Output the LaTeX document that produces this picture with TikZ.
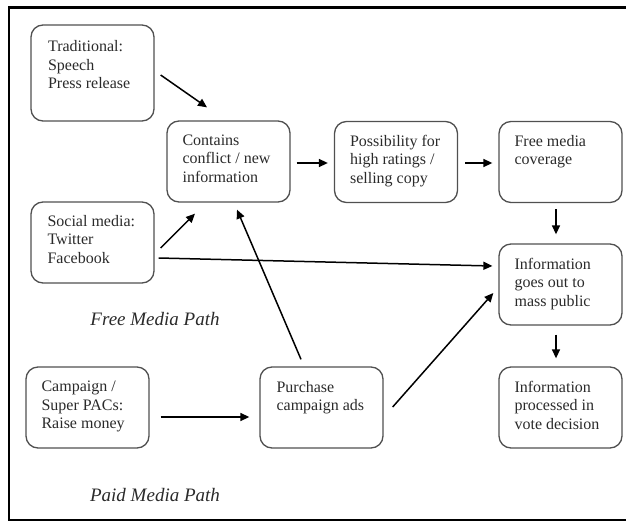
\documentclass[tikz,border=0pt]{standalone}
\usepackage{fontspec}
\setmainfont{Liberation Serif}
\usetikzlibrary{arrows.meta,calc}
\definecolor{boxgray}{HTML}{505050}
\definecolor{txtgray}{HTML}{2A2A2A}
\begin{document}
\begin{tikzpicture}[x=1pt,y=-1pt,
  box/.style={draw=boxgray,line width=1.3pt,rounded corners=12pt,minimum width=123pt,minimum height=81pt,inner sep=0pt},
  tallbox/.style={box,minimum height=96pt},
  txt/.style={anchor=north west,align=left,inner sep=0pt,text=txtgray,font=\fontsize{16}{18.5}\selectfont},
  lab/.style={inner sep=0pt,text=txtgray,font=\fontsize{19}{22}\selectfont\itshape},
  arr/.style={line width=1.5pt,-{Triangle[length=9pt,width=8pt]}}]
\useasboundingbox (0,0) rectangle (626,522);
\draw[line width=2.5pt] (626,7.5) -- (9,7.5) -- (9,520) -- (626,520);

\node[tallbox] (trad) at (92.5,73) {};
\node[txt] (tradt) at ([shift={(17.5,16)}]trad.north west) {Traditional:\\Speech\\Press release};
\node[box] (cont) at (228.5,161.5) {};
\node[txt] (contt) at ([shift={(16,14)}]cont.north west) {Contains\\conflict / new\\information};
\node[box] (soc) at (92.5,242.5) {};
\node[txt] (soct) at ([shift={(17,13.5)}]soc.north west) {Social media:\\Twitter\\Facebook};
\node[box] (poss) at (396,162) {};
\node[txt] (posst) at ([shift={(16,14)}]poss.north west) {Possibility for\\high ratings /\\selling copy};
\node[box] (free) at (560.5,162) {};
\node[txt] (freet) at ([shift={(16,14)}]free.north west) {Free media\\coverage};
\node[box] (info) at (560.5,284.5) {};
\node[txt] (infot) at ([shift={(16,14.5)}]info.north west) {Information\\goes out to\\mass public};
\node[box] (proc) at (560.5,407.5) {};
\node[txt] (proct) at ([shift={(16,14.5)}]proc.north west) {Information\\processed in\\vote decision};
\node[box] (camp) at (87.5,407.5) {};
\node[txt] (campt) at ([shift={(16,14.5)}]camp.north west) {Campaign /\\Super PACs:\\Raise money};
\node[box] (purch) at (321.5,407.5) {};
\node[txt] (purcht) at ([shift={(17,14.5)}]purch.north west) {Purchase\\campaign ads};

\node[lab,anchor=base] (freelab) at (155,325.5) {Free Media Path};
\node[lab,anchor=base] (paidlab) at (155,501.5) {Paid Media Path};

\draw[arr] ([shift={(6,2)}]trad.east) -- ([shift={(-21.5,-13)}]cont.north);
\draw[arr] ([shift={(6,5.5)}]soc.east) -- ([shift={(-33.5,11)}]cont.south);
\draw[arr] ([shift={(-20.5,-7)}]purch.north) -- ([shift={(8.5,7)}]cont.south);
\draw[arr] ([shift={(4,15.5)}]soc.east) -- ([shift={(-6,-18.5)}]info.west);
\draw[arr] ([shift={(6,1.5)}]cont.east) -- ([shift={(-6,1)}]poss.west);
\draw[arr] ([shift={(7,1)}]poss.east) -- ([shift={(-6,1)}]free.west);
\draw[arr] ([shift={(-4.5,6)}]free.south) -- ([shift={(-4.5,-9)}]info.north);
\draw[arr] ([shift={(11,9.5)}]camp.east) -- ([shift={(-10,9.5)}]purch.west);
\draw[arr] ([shift={(9,-0.5)}]purch.east) -- ([shift={(-5,8.5)}]info.west);
\draw[arr] ([shift={(-4.5,9)}]info.south) -- ([shift={(-4.5,-8)}]proc.north);
\end{tikzpicture}
\end{document}
